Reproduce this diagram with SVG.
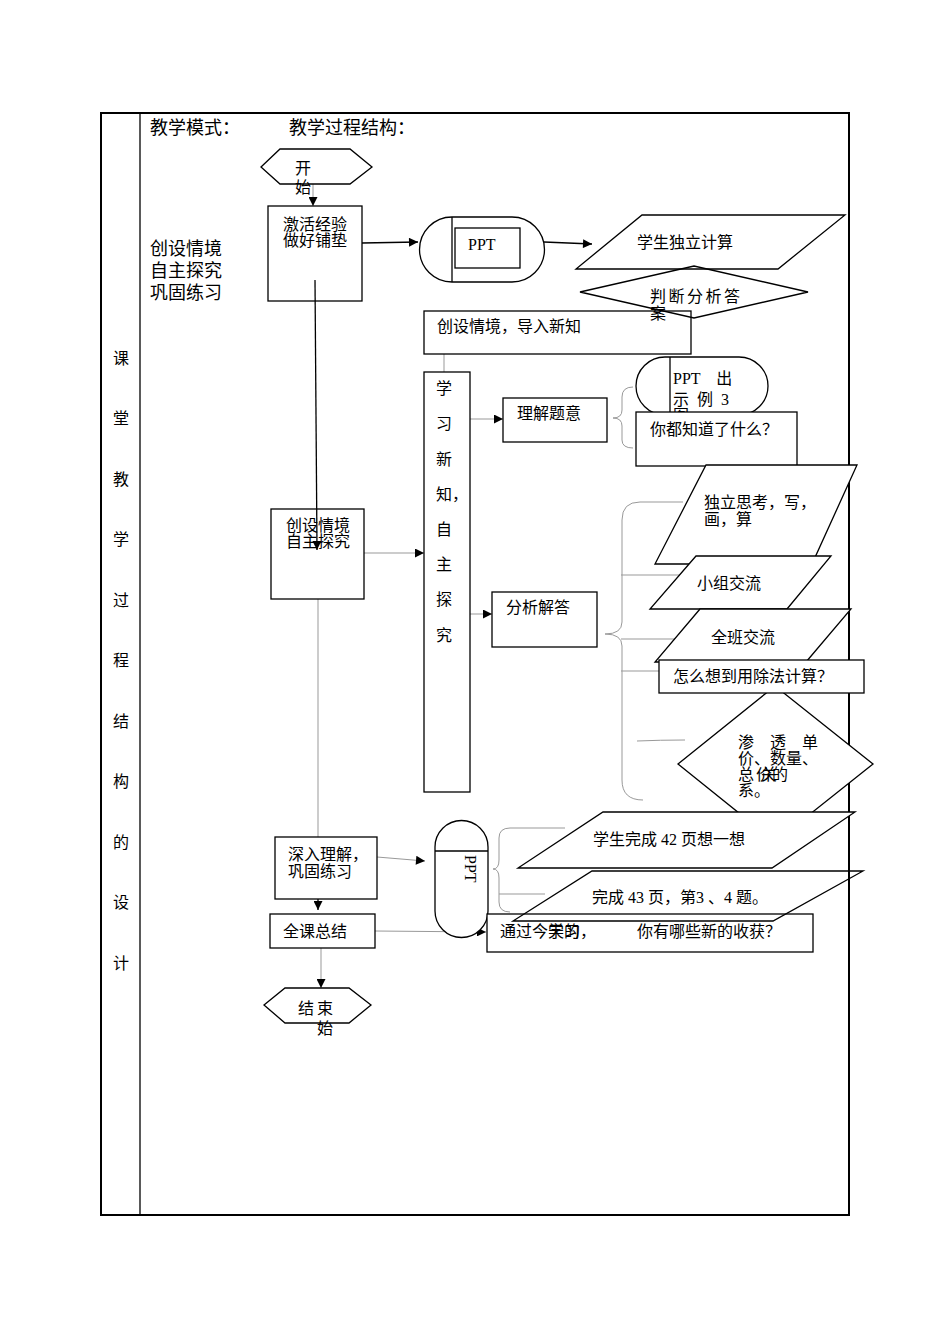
<svg xmlns="http://www.w3.org/2000/svg" width="950" height="1344" viewBox="0 0 950 1344">
<defs>
<marker id="ah" viewBox="0 0 10 10" refX="10" refY="5" markerWidth="10" markerHeight="9" markerUnits="userSpaceOnUse" orient="auto">
<path d="M0,0 L10,5 L0,10 Z" fill="#000"/>
</marker>
<clipPath id="clipTu"><rect x="660" y="400" width="60" height="12"/></clipPath>
</defs>
<style>
text{font-family:"Liberation Serif","Noto Sans CJK SC",serif;font-size:16px;fill:#000}
.big{font-size:18px}
.sm{font-size:14.5px}
.shape{fill:#fff;stroke:#000;stroke-width:1.3}
.open{fill:none;stroke:#000;stroke-width:1.3}
.c{stroke:#000;stroke-width:1.3;fill:none}
.g{stroke:#999;stroke-width:1;fill:none}
.border{fill:none;stroke:#000;stroke-width:2}
</style>
<rect width="950" height="1344" fill="#fff"/>

<g id="table">
<rect class="border" x="101" y="113" width="748" height="1102"/>
<line x1="140" y1="113" x2="140" y2="1215" stroke="#000" stroke-width="1.3"/>
<g class="big" text-anchor="middle">
<text x="121" y="364">课</text>
<text x="121" y="424">堂</text>
<text x="121" y="485">教</text>
<text x="121" y="545">学</text>
<text x="121" y="606">过</text>
<text x="121" y="666">程</text>
<text x="121" y="727">结</text>
<text x="121" y="787">构</text>
<text x="121" y="848">的</text>
<text x="121" y="908">设</text>
<text x="121" y="969">计</text>
</g>
<text class="big" x="150" y="134">教学模式：</text>
<text class="big" x="289" y="134">教学过程结构：</text>
<text class="big" x="150" y="255">创设情境</text>
<text class="big" x="150" y="277">自主探究</text>
<text class="big" x="150" y="299">巩固练习</text>
</g>

<g id="connectors">
<line class="g" x1="313" y1="184" x2="313" y2="206" marker-end="url(#ah)"/>
<line class="c" x1="315" y1="280" x2="317" y2="550" marker-end="url(#ah)"/>
<line class="c" x1="362" y1="243" x2="418" y2="242" marker-end="url(#ah)"/>
<line class="c" x1="544" y1="242" x2="592" y2="244" marker-end="url(#ah)"/>
<line class="g" x1="444" y1="340" x2="444" y2="372"/>
<line class="g" x1="470" y1="419" x2="503" y2="419" marker-end="url(#ah)"/>
<line class="g" x1="364" y1="553" x2="424" y2="553" marker-end="url(#ah)"/>
<line class="g" x1="470" y1="614" x2="492" y2="614" marker-end="url(#ah)"/>
<line class="g" x1="318" y1="599" x2="318" y2="837"/>
<line class="g" x1="377" y1="857" x2="425" y2="861" marker-end="url(#ah)"/>
<line class="c" x1="318" y1="899" x2="318" y2="910" marker-end="url(#ah)"/>
<line class="g" x1="375" y1="931" x2="486" y2="932" marker-end="url(#ah)"/>
<line class="g" x1="321" y1="948" x2="321" y2="988" marker-end="url(#ah)"/>
<path class="g" d="M633,387 Q622,387 622,397 L622,410 Q622,418 613,418 Q622,418 622,426 L622,440 Q622,448 633,448"/>
<path class="g" d="M683,502 L640,502 Q622,502 622,520 L622,622 Q622,634 605,634 Q622,634 622,646 L622,780 Q622,800 643,800"/>
<line class="g" x1="621" y1="575" x2="683" y2="575"/>
<line class="g" x1="621" y1="639" x2="700" y2="639"/>
<line class="g" x1="621" y1="671" x2="660" y2="671"/>
<path class="g" d="M637,741 Q660,740 685,740"/>
<path class="g" d="M565,828 L510,828 Q499,828 499,838 L499,860 Q499,869 493,869 Q499,869 499,878 L499,902 Q499,912 510,912"/>
<line class="g" x1="499" y1="894" x2="545" y2="894"/>
</g>

<g id="n-start">
<polygon class="shape" points="261,167 280,149 350,149 372,167 350,184 280,184"/>
<text x="295" y="174">开</text>
<text x="295" y="193">始</text>
</g>

<g id="n-jihuo">
<rect class="shape" x="268" y="206" width="94" height="95" fill-opacity="0"/>
<text x="315" y="230" text-anchor="middle">激活经验</text>
<text x="315" y="246" text-anchor="middle">做好铺垫</text>
</g>

<g id="n-ppt1">
<path class="shape" d="M452,217 L512,217 A32.5,32.5 0 0 1 512,282 L452,282 A32.5,32.5 0 0 1 452,217 Z"/>
<line class="c" x1="452" y1="217" x2="452" y2="282"/>
<rect class="shape" x="455" y="228" width="65" height="40"/>
<text x="468" y="250" font-size="15">PPT</text>
</g>

<g id="n-calc">
<polygon class="shape" points="642,215 845,215 778,269 576,269"/>
<text x="637" y="248">学生独立计算</text>
</g>

<g id="n-intro">
<rect class="shape" x="424" y="311" width="267" height="43"/>
<text x="437" y="332">创设情境，导入新知</text>
</g>

<g id="n-judge">
<polygon class="open" points="580,292 694,266 808,292 694,318"/>
<text x="650" y="302" letter-spacing="2.5">判断分析答</text>
<text x="650" y="319">案</text>
</g>

<g id="n-learn">
<rect class="shape" x="424" y="372" width="46" height="420"/>
<g text-anchor="middle">
<text x="444" y="394">学</text>
<text x="444" y="429">习</text>
<text x="444" y="465">新</text>
<text x="436" y="500" text-anchor="start">知，</text>
<text x="444" y="535">自</text>
<text x="444" y="570">主</text>
<text x="444" y="605">探</text>
<text x="444" y="641">究</text>
</g>
</g>

<g id="n-understand">
<rect class="shape" x="503" y="398" width="104" height="44"/>
<text x="517" y="419">理解题意</text>
</g>

<g id="n-ppt2">
<path class="shape" d="M665,357 L739,357 A29,29 0 0 1 739,415 L665,415 A29,29 0 0 1 665,357 Z"/>
<line class="c" x1="670" y1="357" x2="670" y2="415"/>
<text x="673" y="384" font-size="15">PPT　出</text>
<text x="673" y="405" font-size="15" letter-spacing="2">示 例 3</text>
<text x="673" y="421" font-size="15" clip-path="url(#clipTu)">图</text>
</g>

<g id="n-know">
<rect class="shape" x="636" y="412" width="161" height="54"/>
<text x="650" y="435">你都知道了什么？</text>
</g>

<g id="n-explore">
<rect class="shape" x="271" y="509" width="93" height="90" fill-opacity="0"/>
<text x="318" y="531" text-anchor="middle">创设情境</text>
<text x="318" y="547" text-anchor="middle">自主探究</text>
</g>

<g id="n-analyze">
<rect class="shape" x="492" y="592" width="105" height="55"/>
<text x="506" y="613">分析解答</text>
</g>

<g id="n-think">
<polygon class="shape" points="706,465 857,465 812,564 655,564"/>
<text x="704" y="508">独立思考，写，</text>
<text x="704" y="525">画，算</text>
</g>

<g id="n-group">
<polygon class="shape" points="696,556 831,556 787,609 650,609"/>
<text x="697" y="589">小组交流</text>
</g>

<g id="n-class">
<polygon class="shape" points="700,609 851,609 806,662 655,662"/>
<text x="711" y="643">全班交流</text>
</g>

<g id="n-relation">
<polygon class="shape" points="775,686 873,764 775,842 678,764"/>
<g class="sm">
<text x="738" y="748">渗　透　单</text>
<text x="738" y="764">价、数量、</text>
<text x="738" y="780">总</text>
<text x="756" y="780">价的</text>
<text x="761" y="780">关</text>
<text x="738" y="796">系。</text>
</g>
</g>

<g id="n-division">
<rect class="shape" x="659" y="660" width="205" height="33"/>
<text x="673" y="682">怎么想到用除法计算？</text>
</g>

<g id="n-deep">
<rect class="shape" x="275" y="837" width="102" height="62"/>
<text x="288" y="860">深入理解，</text>
<text x="288" y="877">巩固练习</text>
</g>

<g id="n-summary">
<rect class="shape" x="270" y="914" width="105" height="34"/>
<text x="283" y="937">全课总结</text>
</g>

<g id="n-ppt3">
<path class="shape" d="M435,847 A26.5,26.5 0 0 1 488,847 L488,911 A26.5,26.5 0 0 1 435,911 Z"/>
<line class="c" x1="435" y1="851" x2="488" y2="851"/>
<text x="0" y="0" font-size="15" transform="translate(465,855) rotate(90)">PPT</text>
</g>

<g id="n-p42">
<polygon class="shape" points="603,812 855,812 772,868 518,868"/>
<text x="593" y="845">学生完成 42 页想一想</text>
</g>

<g id="n-gain">
<rect class="shape" x="487" y="914" width="326" height="38"/>
<text x="500" y="937">通过今天的，</text>
<text x="548" y="937">学习</text>
<text x="637" y="937">你有哪些新的收获？</text>
</g>

<g id="n-p43">
<polygon class="open" points="592,871 863,871 773,921 513,921"/>
<text x="592" y="903">完成 43 页，第3 、4 题。</text>
</g>

<g id="n-end">
<polygon class="shape" points="264,1005 285,988 349,988 371,1005 349,1023 285,1023"/>
<text x="298" y="1014" font-size="17" letter-spacing="3">结束</text>
<text x="317" y="1034" font-size="17">始</text>
</g>
</svg>
